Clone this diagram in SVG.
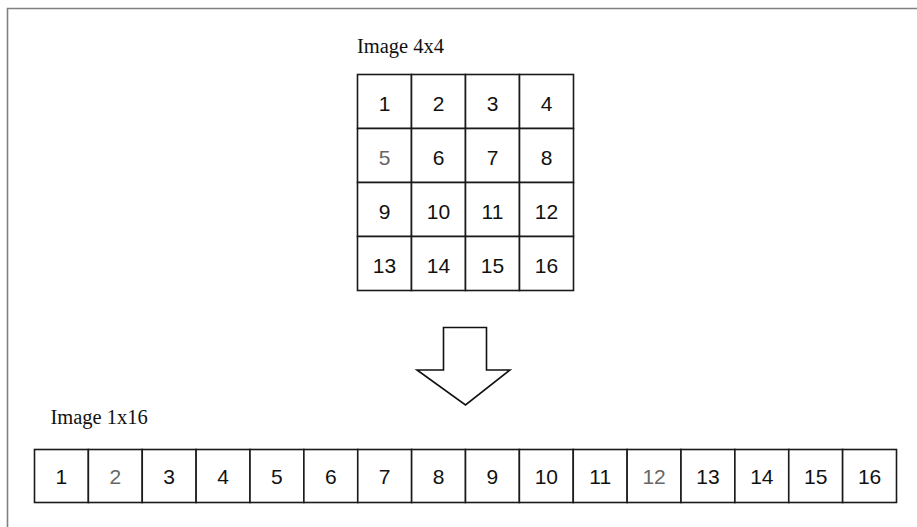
<svg xmlns="http://www.w3.org/2000/svg" width="917" height="527" viewBox="0 0 917 527">
<style>
.cell{fill:#fff;stroke:#1a1a1a;stroke-width:1.6}
.num{font-family:"Liberation Sans",Arial,sans-serif;font-size:21px;fill:#111;text-anchor:middle}
.gray{fill:#666}
.lbl{font-family:"Liberation Serif","Times New Roman",serif;font-size:20.5px;fill:#111}
.frame{fill:none;stroke:#808080;stroke-width:1.6}
.arrow{fill:#fff;stroke:#111;stroke-width:1.6;stroke-linejoin:miter}
</style>
<rect width="917" height="527" fill="#fff"/>
<path class="frame" d="M7.5 527 V8.5 H917"/>
<text class="lbl" x="357" y="52.5">Image 4x4</text>
<text class="lbl" x="50.5" y="424">Image 1x16</text>
<g id="grid4x4">
<g id="g1"><rect class="cell" x="357.5" y="74.5" width="54" height="54"/><text class="num" x="384.5" y="110.5">1</text></g>
<g id="g2"><rect class="cell" x="411.5" y="74.5" width="54" height="54"/><text class="num" x="438.5" y="110.5">2</text></g>
<g id="g3"><rect class="cell" x="465.5" y="74.5" width="54" height="54"/><text class="num" x="492.5" y="110.5">3</text></g>
<g id="g4"><rect class="cell" x="519.5" y="74.5" width="54" height="54"/><text class="num" x="546.5" y="110.5">4</text></g>
<g id="g5"><rect class="cell" x="357.5" y="128.5" width="54" height="54"/><text class="num gray" x="384.5" y="164.5">5</text></g>
<g id="g6"><rect class="cell" x="411.5" y="128.5" width="54" height="54"/><text class="num" x="438.5" y="164.5">6</text></g>
<g id="g7"><rect class="cell" x="465.5" y="128.5" width="54" height="54"/><text class="num" x="492.5" y="164.5">7</text></g>
<g id="g8"><rect class="cell" x="519.5" y="128.5" width="54" height="54"/><text class="num" x="546.5" y="164.5">8</text></g>
<g id="g9"><rect class="cell" x="357.5" y="182.5" width="54" height="54"/><text class="num" x="384.5" y="218.5">9</text></g>
<g id="g10"><rect class="cell" x="411.5" y="182.5" width="54" height="54"/><text class="num" x="438.5" y="218.5">10</text></g>
<g id="g11"><rect class="cell" x="465.5" y="182.5" width="54" height="54"/><text class="num" x="492.5" y="218.5">11</text></g>
<g id="g12"><rect class="cell" x="519.5" y="182.5" width="54" height="54"/><text class="num" x="546.5" y="218.5">12</text></g>
<g id="g13"><rect class="cell" x="357.5" y="236.5" width="54" height="54"/><text class="num" x="384.5" y="272.5">13</text></g>
<g id="g14"><rect class="cell" x="411.5" y="236.5" width="54" height="54"/><text class="num" x="438.5" y="272.5">14</text></g>
<g id="g15"><rect class="cell" x="465.5" y="236.5" width="54" height="54"/><text class="num" x="492.5" y="272.5">15</text></g>
<g id="g16"><rect class="cell" x="519.5" y="236.5" width="54" height="54"/><text class="num" x="546.5" y="272.5">16</text></g>
</g>
<g id="connectors">
<path id="arrow" class="arrow" d="M443.5 327.5 H486.5 V370 H510 L465.5 405 L417 370 H443.5 Z"/>
</g>
<g id="row1x16">
<g id="r1"><rect class="cell" x="34.5" y="449.5" width="53.875" height="53"/><text class="num" x="61.44" y="483.5">1</text></g>
<g id="r2"><rect class="cell" x="88.375" y="449.5" width="53.875" height="53"/><text class="num gray" x="115.31" y="483.5">2</text></g>
<g id="r3"><rect class="cell" x="142.25" y="449.5" width="53.875" height="53"/><text class="num" x="169.19" y="483.5">3</text></g>
<g id="r4"><rect class="cell" x="196.125" y="449.5" width="53.875" height="53"/><text class="num" x="223.06" y="483.5">4</text></g>
<g id="r5"><rect class="cell" x="250" y="449.5" width="53.875" height="53"/><text class="num" x="276.94" y="483.5">5</text></g>
<g id="r6"><rect class="cell" x="303.875" y="449.5" width="53.875" height="53"/><text class="num" x="330.81" y="483.5">6</text></g>
<g id="r7"><rect class="cell" x="357.75" y="449.5" width="53.875" height="53"/><text class="num" x="384.69" y="483.5">7</text></g>
<g id="r8"><rect class="cell" x="411.625" y="449.5" width="53.875" height="53"/><text class="num" x="438.56" y="483.5">8</text></g>
<g id="r9"><rect class="cell" x="465.5" y="449.5" width="53.875" height="53"/><text class="num" x="492.44" y="483.5">9</text></g>
<g id="r10"><rect class="cell" x="519.375" y="449.5" width="53.875" height="53"/><text class="num" x="546.31" y="483.5">10</text></g>
<g id="r11"><rect class="cell" x="573.25" y="449.5" width="53.875" height="53"/><text class="num" x="600.19" y="483.5">11</text></g>
<g id="r12"><rect class="cell" x="627.125" y="449.5" width="53.875" height="53"/><text class="num gray" x="654.06" y="483.5">12</text></g>
<g id="r13"><rect class="cell" x="681" y="449.5" width="53.875" height="53"/><text class="num" x="707.94" y="483.5">13</text></g>
<g id="r14"><rect class="cell" x="734.875" y="449.5" width="53.875" height="53"/><text class="num" x="761.81" y="483.5">14</text></g>
<g id="r15"><rect class="cell" x="788.75" y="449.5" width="53.875" height="53"/><text class="num" x="815.69" y="483.5">15</text></g>
<g id="r16"><rect class="cell" x="842.625" y="449.5" width="53.875" height="53"/><text class="num" x="869.56" y="483.5">16</text></g>
</g>
</svg>
